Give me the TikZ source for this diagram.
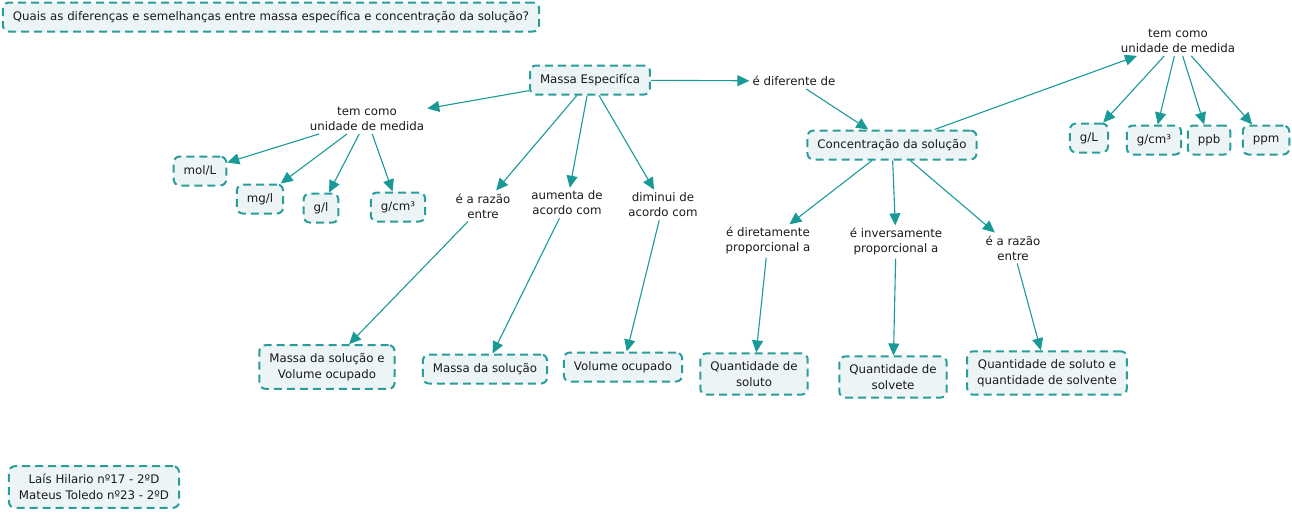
\documentclass[tikz,border=0pt]{standalone}
\usepackage{fontspec}
\setmainfont{DejaVu Sans}
\usetikzlibrary{arrows.meta}
\definecolor{tealb}{HTML}{2A9D9A}
\definecolor{boxfill}{HTML}{EDF4F5}
\definecolor{arr}{HTML}{1A9A96}
\definecolor{txt}{HTML}{1A1A1A}
\begin{document}
\begin{tikzpicture}[x=1pt,y=-1pt,
  every node/.style={font=\fontsize{11.8}{15}\selectfont, text=txt, align=center},
  concept/.style={draw=tealb, fill=boxfill, line width=2pt, dash pattern=on 8pt off 5pt, rounded corners=6pt, font=\fontsize{11.8}{16}\selectfont, inner xsep=10pt, inner ysep=8pt, minimum height=29pt},
  lbl/.style={inner sep=3pt},
  link/.style={draw=arr, line width=1.1pt, -{Triangle[length=12pt,width=11pt]}}
]
\useasboundingbox (0,0) rectangle (1292,512);
% concepts
\node[concept] (q) at (271,17) {Quais as diferenças e semelhanças entre massa específica e concentração da solução?};
\node[concept] (me) at (590,80) {Massa Especifíca};
\node[lbl] (tcl) at (367,119) {tem como\\unidade de medida};
\node[concept] (molL) at (200,171) {mol/L};
\node[concept] (mgl) at (260,199) {mg/l};
\node[concept] (gl) at (321,208) {g/l};
\node[concept] (gcmL) at (398,207) {g/cm³};
\node[lbl] (raz1) at (483,206) {é a razão\\entre};
\node[lbl] (aum) at (567,203) {aumenta de\\acordo com};
\node[lbl] (dim) at (663,205) {diminui de\\acordo com};
\node[concept] (msv) at (327,367) {Massa da solução e\\Volume ocupado};
\node[concept] (ms) at (485,369) {Massa da solução};
\node[concept] (vo) at (623,367) {Volume ocupado};
\node[lbl] (dif) at (794,81) {é diferente de};
\node[concept] (cs) at (892,145) {Concentração da solução};
\node[lbl] (tcr) at (1178,41) {tem como\\unidade de medida};
\node[concept] (gL) at (1089,138) {g/L};
\node[concept] (gcmR) at (1154,140) {g/cm³};
\node[concept] (ppb) at (1209,140) {ppb};
\node[concept] (ppm) at (1266,140) {ppm};
\node[lbl] (dir) at (768,241) {é diretamente\\proporcional a};
\node[lbl] (inv) at (896,242) {é inversamente\\proporcional a};
\node[lbl] (raz2) at (1013,248) {é a razão\\entre};
\node[concept] (qs) at (754,374) {Quantidade de\\soluto};
\node[concept] (qv) at (893,377) {Quantidade de\\solvete};
\node[concept] (qsv) at (1047,373) {Quantidade de soluto e\\quantidade de solvente};
\node[concept] (aut) at (94,487) {Laís Hilario nº17 - 2ºD\\Mateus Toledo nº23 - 2ºD};
% links
\draw[link] (me) -- (tcl);
\draw[link] (tcl) -- (molL);
\draw[link] (tcl) -- (mgl);
\draw[link] (tcl) -- (gl);
\draw[link] (tcl) -- (gcmL);
\draw[link] (me) -- (raz1);
\draw[link] (me) -- (aum);
\draw[link] (me) -- (dim);
\draw[link] (raz1) -- (msv);
\draw[link] (aum) -- (ms);
\draw[link] (dim) -- (vo);
\draw[link] (me) -- (dif);
\draw[link] (dif) -- (cs);
\draw[link] (cs) -- (tcr);
\draw[link] (tcr) -- (gL);
\draw[link] (tcr) -- (gcmR);
\draw[link] (tcr) -- (ppb);
\draw[link] (tcr) -- (ppm);
\draw[link] (cs) -- (dir);
\draw[link] (cs) -- (inv);
\draw[link] (cs) -- (raz2);
\draw[link] (dir) -- (qs);
\draw[link] (inv) -- (qv);
\draw[link] (raz2) -- (qsv);
\end{tikzpicture}
\end{document}
